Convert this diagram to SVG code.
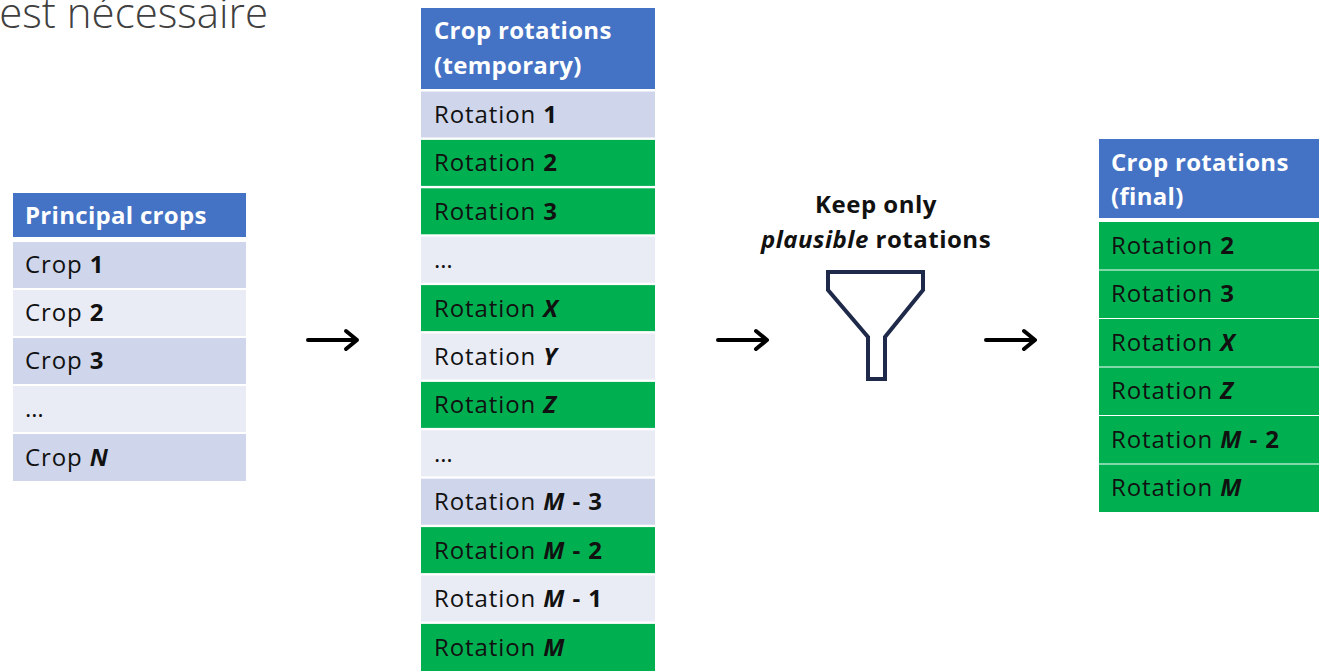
<svg xmlns="http://www.w3.org/2000/svg" width="1319" height="671" viewBox="0 0 1319 671">
<defs>
<style>
.t{font-family:"Open Sans","Liberation Sans",sans-serif;font-size:24px;letter-spacing:0.9px;fill:#111}
.h{font-family:"Open Sans","Liberation Sans",sans-serif;font-size:24px;letter-spacing:0.3px;font-weight:bold;fill:#fff}
.k{font-family:"Open Sans","Liberation Sans",sans-serif;font-size:24px;letter-spacing:0.5px;font-weight:bold;fill:#111}
.b{font-weight:bold}
.bi{font-weight:bold;font-style:italic}
.hd{fill:#4472C4}
.g{fill:#00B050}
.d{fill:#CFD5EA}
.l{fill:#E9EBF5}
.arr{stroke:#000;stroke-width:4;fill:none;stroke-linecap:round;stroke-linejoin:round}
</style>
</defs>
<rect width="1319" height="671" fill="#fff"/>
<text x="268" y="28" text-anchor="end" style="font-family:'Open Sans','Liberation Sans',sans-serif;font-size:42px;font-weight:300;fill:#404040">est nécessaire</text>

<g id="principal-crops">
<rect class="hd" x="13" y="193" width="233" height="44"/>
<text class="h" x="25" y="224">Principal crops</text>
<rect class="d" x="13" y="242" width="233" height="46"/><text class="t" x="25" y="273">Crop <tspan class="b">1</tspan></text>
<rect class="l" x="13" y="290" width="233" height="46"/><text class="t" x="25" y="321">Crop <tspan class="b">2</tspan></text>
<rect class="d" x="13" y="338" width="233" height="46"/><text class="t" x="25" y="369">Crop <tspan class="b">3</tspan></text>
<rect class="l" x="13" y="386" width="233" height="46"/><text class="t" x="25" y="417">…</text>
<rect class="d" x="13" y="434" width="233" height="47"/><text class="t" x="25" y="466">Crop <tspan class="bi">N</tspan></text>
</g>

<g id="rotations-temporary">
<rect class="hd" x="421" y="8" width="234" height="81"/>
<text class="h" x="434" y="39">Crop rotations</text>
<text class="h" x="434" y="74">(temporary)</text>
<rect class="d" x="421" y="91.5" width="234" height="46"/><text class="t" x="434" y="123">Rotation <tspan class="b">1</tspan></text>
<rect class="g" x="421" y="139.9" width="234" height="46"/><text class="t" x="434" y="171">Rotation <tspan class="b">2</tspan></text>
<rect class="g" x="421" y="188.3" width="234" height="46"/><text class="t" x="434" y="220">Rotation <tspan class="b">3</tspan></text>
<rect class="l" x="421" y="236.7" width="234" height="46"/><text class="t" x="434" y="268">…</text>
<rect class="g" x="421" y="285.1" width="234" height="46"/><text class="t" x="434" y="317">Rotation <tspan class="bi">X</tspan></text>
<rect class="l" x="421" y="333.5" width="234" height="46"/><text class="t" x="434" y="365">Rotation <tspan class="bi">Y</tspan></text>
<rect class="g" x="421" y="381.9" width="234" height="46"/><text class="t" x="434" y="413">Rotation <tspan class="bi">Z</tspan></text>
<rect class="l" x="421" y="430.3" width="234" height="46"/><text class="t" x="434" y="462">…</text>
<rect class="d" x="421" y="478.7" width="234" height="46"/><text class="t" x="434" y="510">Rotation <tspan class="bi">M</tspan><tspan class="b"> - 3</tspan></text>
<rect class="g" x="421" y="527.1" width="234" height="46"/><text class="t" x="434" y="559">Rotation <tspan class="bi">M</tspan><tspan class="b"> - 2</tspan></text>
<rect class="l" x="421" y="575.5" width="234" height="46"/><text class="t" x="434" y="607">Rotation <tspan class="bi">M</tspan><tspan class="b"> - 1</tspan></text>
<rect class="g" x="421" y="623.9" width="234" height="47.1"/><text class="t" x="434" y="656">Rotation <tspan class="bi">M</tspan></text>
</g>

<g id="filter">
<text class="k" x="876" y="213" text-anchor="middle">Keep only</text>
<text class="k" x="876" y="248" text-anchor="middle"><tspan font-style="italic">plausible</tspan> rotations</text>
<path d="M828,272 L923,272 L923,290 L885,337 L885,379 L868,379 L868,337 L828,290 Z" fill="none" stroke="#1F2A4A" stroke-width="4" stroke-linejoin="miter"/>
</g>

<g id="rotations-final">
<rect class="hd" x="1099" y="139" width="220" height="79"/>
<text class="h" x="1111" y="171">Crop rotations</text>
<text class="h" x="1111" y="205">(final)</text>
<rect class="g" x="1099" y="222" width="220" height="290"/>
<g stroke="#fff" stroke-width="1.2">
<line x1="1099" y1="270" x2="1319" y2="270"/>
<line x1="1099" y1="318.5" x2="1319" y2="318.5"/>
<line x1="1099" y1="367" x2="1319" y2="367"/>
<line x1="1099" y1="415.5" x2="1319" y2="415.5"/>
<line x1="1099" y1="464" x2="1319" y2="464"/>
</g>
<text class="t" x="1111" y="254">Rotation <tspan class="b">2</tspan></text>
<text class="t" x="1111" y="302">Rotation <tspan class="b">3</tspan></text>
<text class="t" x="1111" y="351">Rotation <tspan class="bi">X</tspan></text>
<text class="t" x="1111" y="399">Rotation <tspan class="bi">Z</tspan></text>
<text class="t" x="1111" y="448">Rotation <tspan class="bi">M</tspan><tspan class="b"> - 2</tspan></text>
<text class="t" x="1111" y="496">Rotation <tspan class="bi">M</tspan></text>
</g>

<g id="connectors">
<path class="arr" d="M308,340 H356 M346,331 L357,340 L346,349"/>
<path class="arr" d="M718,340 H766 M756,331 L767,340 L756,349"/>
<path class="arr" d="M986,340 H1034 M1024,331 L1035,340 L1024,349"/>
</g>
</svg>
